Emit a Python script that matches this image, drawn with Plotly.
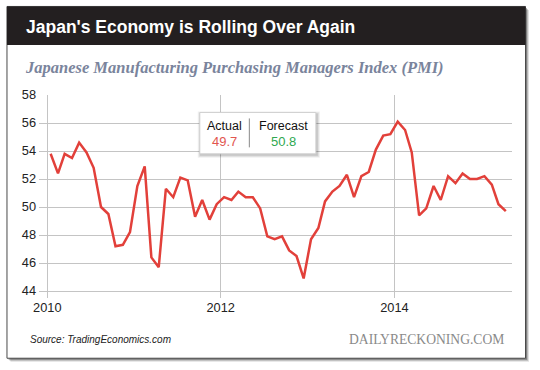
import plotly.graph_objects as go
import pandas as pd

# ---- data ----
months = pd.date_range("2010-01-01", periods=64, freq="MS") + pd.Timedelta(days=14)
pmi = [53.8, 52.4, 53.8, 53.5, 54.6, 53.9, 52.8, 50.0, 49.5, 47.2, 47.3, 48.2,
       51.5, 52.9, 46.4, 45.7, 51.3, 50.7, 52.1, 51.9, 49.3, 50.5, 49.1, 50.2,
       50.7, 50.5, 51.1, 50.7, 50.7, 49.9, 47.9, 47.7, 47.9, 46.9, 46.5, 44.9,
       47.7, 48.5, 50.4, 51.1, 51.5, 52.3, 50.7, 52.2, 52.5, 54.1, 55.1, 55.2,
       56.1, 55.5, 53.9, 49.4, 49.9, 51.5, 50.5, 52.2, 51.7, 52.4, 52.0, 52.0,
       52.2, 51.6, 50.2, 49.7]
y_ticks = [44, 46, 48, 50, 52, 54, 56, 58]
x_ticks = ["2010-01-01", "2012-01-01", "2014-01-01"]
x_tick_labels = ["2010", "2012", "2014"]
actual_label, actual_value = "Actual", "49.7"
forecast_label, forecast_value = "Forecast", "50.8"

W, H = 540, 370
L, R = 39.3, 512.0
T, B = 94.5, 298.1


def px(x):
    return (x - L) / (R - L)


def py(y):
    return (B - y) / (B - T)


fig = go.Figure()
fig.add_trace(go.Scatter(x=months, y=pmi, mode="lines",
                         line=dict(color="#e2403a", width=2.5),
                         hoverinfo="skip", showlegend=False))

shapes = []
# card shadow
for off, op in [(3.5, 0.12), (2.5, 0.18), (1.5, 0.3)]:
    shapes.append(dict(type="rect", xref="paper", yref="paper",
                       x0=px(7.3 + off), x1=px(525.5 + off), y0=py(358.5 + off), y1=py(5.7 + off),
                       fillcolor=f"rgba(0,0,0,{op})", line=dict(width=0), layer="below"))
# card
shapes.append(dict(type="rect", xref="paper", yref="paper",
                   x0=px(7.3), x1=px(525.5), y0=py(358.5), y1=py(5.7),
                   fillcolor="white", line=dict(color="#4a4a4a", width=1), layer="below"))
# header bar
shapes.append(dict(type="rect", xref="paper", yref="paper",
                   x0=px(7.3), x1=px(525.5), y0=py(44.3), y1=py(5.7),
                   fillcolor="#231f20", line=dict(width=0), layer="below"))
# annotation box shadow
for off, op in [(4, 0.06), (3, 0.08), (2, 0.1)]:
    shapes.append(dict(type="rect", xref="paper", yref="paper",
                       x0=px(200 - off + 2), x1=px(316 + off), y0=py(153.5 + off), y1=py(112 - off + 3),
                       fillcolor=f"rgba(0,0,0,{op})", line=dict(width=0), layer="above"))
shapes.append(dict(type="rect", xref="paper", yref="paper",
                   x0=px(200), x1=px(316), y0=py(153.5), y1=py(112),
                   fillcolor="white", line=dict(color="#d0d0d0", width=1), layer="above"))
shapes.append(dict(type="line", xref="paper", yref="paper",
                   x0=px(249.5), x1=px(249.5), y0=py(147), y1=py(118),
                   line=dict(color="#888888", width=1), layer="above"))

annotations = [
    dict(text="<b>Japan's Economy is Rolling Over Again</b>", x=px(24), y=py(26.5),
         xanchor="left", yanchor="middle",
         font=dict(family="Liberation Sans, Arial", size=17.5, color="white")),
    dict(text="<b><i>Japanese Manufacturing Purchasing Managers Index (PMI)</i></b>", x=px(23), y=py(67),
         xanchor="left", yanchor="middle",
         font=dict(family="Liberation Serif, Times New Roman", size=16.5, color="#7a849c")),
    dict(text="<i>Source: TradingEconomics.com</i>", x=px(28), y=py(340),
         xanchor="left", yanchor="middle",
         font=dict(family="Liberation Sans, Arial", size=10, color="#222222")),
    dict(text="DAILYRECKONING.COM", x=px(506), y=py(340),
         xanchor="right", yanchor="middle",
         font=dict(family="Liberation Serif, Times New Roman", size=13.6, color="#8a8a8a")),
    dict(text=actual_label, x=px(224.5), y=py(126),
         xanchor="center", yanchor="middle",
         font=dict(family="Liberation Sans, Arial", size=12.5, color="#111111")),
    dict(text=actual_value, x=px(224.5), y=py(141),
         xanchor="center", yanchor="middle",
         font=dict(family="Liberation Sans, Arial", size=13, color="#e2564f")),
    dict(text=forecast_label, x=px(284), y=py(126),
         xanchor="center", yanchor="middle",
         font=dict(family="Liberation Sans, Arial", size=12.5, color="#111111")),
    dict(text=forecast_value, x=px(284), y=py(141),
         xanchor="center", yanchor="middle",
         font=dict(family="Liberation Sans, Arial", size=13, color="#2fa84f")),
]
for a in annotations:
    a.update(xref="paper", yref="paper", showarrow=False)

fig.update_layout(
    width=W, height=H,
    margin=dict(l=L, r=W - R, t=T, b=H - B, pad=0),
    paper_bgcolor="white", plot_bgcolor="rgba(0,0,0,0)",
    shapes=shapes, annotations=annotations,
    xaxis=dict(range=["2009-11-27", "2015-05-11"], type="date",
               tickvals=x_ticks, ticktext=x_tick_labels,
               showgrid=True, gridcolor="#c4c4c4", gridwidth=1,
               zeroline=False, showline=False, ticks="",
               tickfont=dict(family="Liberation Sans, Arial", size=12.8, color="#222222")),
    yaxis=dict(range=[43.5, 58], tickvals=y_ticks,
               showgrid=True, gridcolor="#c4c4c4", gridwidth=1,
               zeroline=False, showline=False, ticks="",
               ticklabelstandoff=2,
               tickfont=dict(family="Liberation Sans, Arial", size=12.8, color="#222222")),
)

fig.write_html("out.html", config={"displayModeBar": False},
               post_script="document.body.style.margin='0';")
